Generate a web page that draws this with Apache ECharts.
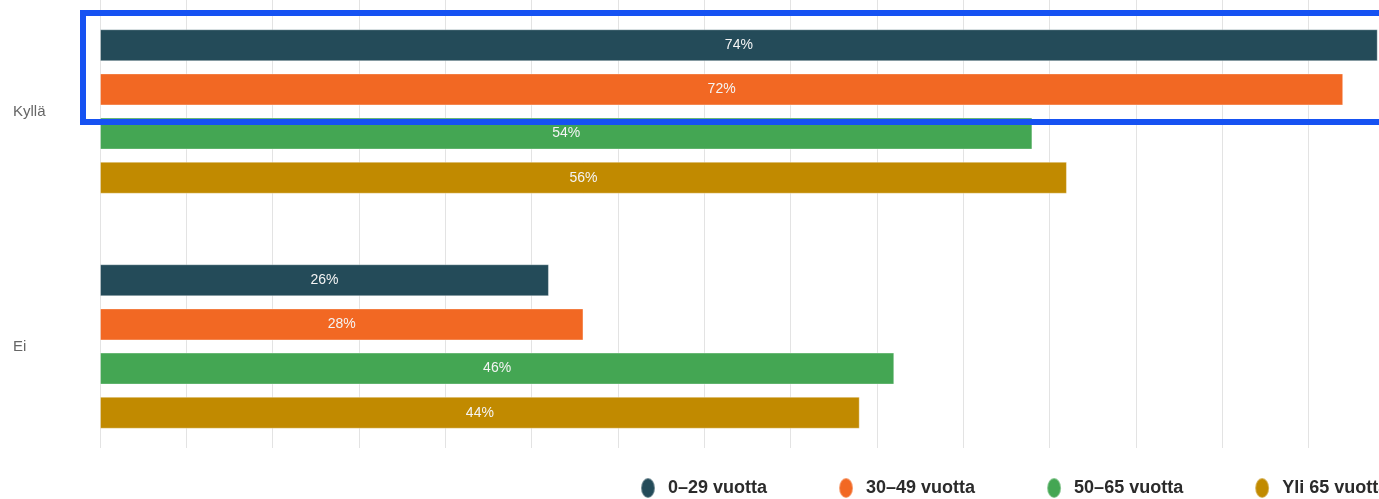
<!DOCTYPE html>
<html>
<head>
<meta charset="utf-8">
<script src="https://cdn.jsdelivr.net/npm/echarts@6/dist/echarts.min.js"></script>
<style>
html,body{margin:0;padding:0;background:#fff;}
#chart{width:1379px;height:499px;}
</style>
</head>
<body>
<div id="chart"></div>
<script>
var categories = ['Kyllä', 'Ei'];
var seriesNames = ['0–29 vuotta', '30–49 vuotta', '50–65 vuotta', 'Yli 65 vuotta'];
var age0_29 = [74, 26];
var age30_49 = [72, 28];
var age50_65 = [54, 46];
var age65plus = [56, 44];
var colors = ['#244b59', '#f26823', '#44a653', '#c18a00'];
var values = [age0_29, age30_49, age50_65, age65plus];

var chart = echarts.init(document.getElementById('chart'), null, {renderer: 'canvas'});
var ff = "'Liberation Sans', Arial, sans-serif";
var ellipse = 'path://M7,0 A7,10 0 1,1 7,20 A7,10 0 1,1 7,0 Z';

var series = seriesNames.map(function (name, i) {
  return {
    name: name,
    type: 'bar',
    xAxisIndex: 0,
    yAxisIndex: 0,
    data: values[i],
    barWidth: 32,
    barGap: '38%',
    clip: false,
    itemStyle: {color: colors[i], borderColor: 'rgba(255,255,255,0.35)', borderWidth: 1},
    label: {
      show: true,
      position: 'inside',
      formatter: '{c}%',
      color: '#f4f4f4',
      fontSize: 14,
      fontFamily: ff
    },
    emphasis: {disabled: true}
  };
});

chart.setOption({
  animation: false,
  color: colors,
  grid: [
    {left: 100, width: 1295, top: -6, height: 470, containLabel: false, outerBoundsMode: 'none'},
    {left: 100, width: 1295, top: 0, height: 448, containLabel: false, outerBoundsMode: 'none'}
  ],
  xAxis: [
    {gridIndex: 0, type: 'value', min: 0, max: 75, interval: 5,
     axisLabel: {show: false}, axisLine: {show: false}, axisTick: {show: false}, splitLine: {show: false}},
    {gridIndex: 1, type: 'value', min: 0, max: 75, interval: 5,
     axisLabel: {show: false}, axisLine: {show: false}, axisTick: {show: false},
     splitLine: {show: true, lineStyle: {color: '#e3e3e3', width: 1}}}
  ],
  yAxis: [
    {gridIndex: 0, type: 'category', data: categories, inverse: true,
     axisLine: {show: false}, axisTick: {show: false},
     axisLabel: {align: 'left', margin: 87, color: '#666', fontSize: 15, fontFamily: ff}},
    {gridIndex: 1, type: 'value', min: 0, max: 1, show: false, splitLine: {show: false}}
  ],
  legend: {
    left: 640,
    top: 477,
    width: 1000,
    padding: 0,
    icon: ellipse,
    itemWidth: 14,
    itemHeight: 20,
    itemGap: 71,
    textStyle: {fontFamily: ff, fontWeight: 'bold', fontSize: 18, color: '#2b2b2b', padding: [0, 0, 0, 8]},
    data: seriesNames
  },
  graphic: [{
    type: 'rect',
    shape: {x: 83, y: 13, width: 1320, height: 109},
    style: {fill: 'none', stroke: '#1652f2', lineWidth: 6},
    z: 100
  }],
  series: series
});
</script>
</body>
</html>
